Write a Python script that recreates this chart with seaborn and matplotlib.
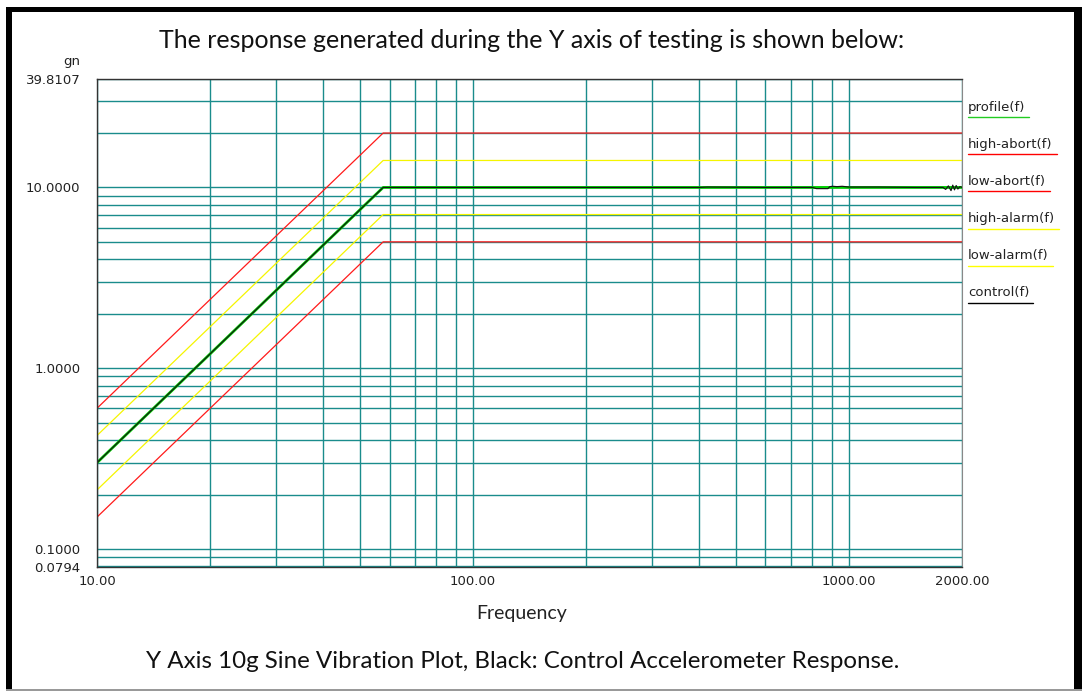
import numpy as np
import matplotlib
matplotlib.use("Agg")
import matplotlib.pyplot as plt
import seaborn as sns
from matplotlib.patches import Rectangle
from matplotlib.lines import Line2D
from matplotlib.ticker import LogLocator, NullFormatter

# breakpoints of the test profile (Hz) and levels (gn)
profile_freq = [10, 57.7, 2000]
profile_g = [0.3, 10.0, 10.0]
high_abort_g = [0.6, 20.0, 20.0]
low_abort_g = [0.15, 5.0, 5.0]
high_alarm_g = [0.424, 14.1, 14.1]
low_alarm_g = [0.212, 7.08, 7.08]

# measured control accelerometer response
control_freq = [10, 57.7, 400, 420, 600, 800, 820, 880, 890, 905, 930, 960, 1000,
                1200, 1500, 1780, 1810, 1840, 1870, 1890, 1910, 1930, 1950, 1975, 2000]
control_g = [0.3, 10.0, 10.0, 10.05, 10.0, 10.0, 9.85, 9.85, 10.1, 10.15, 10.1, 10.15, 10.05,
             10.05, 10.0, 10.0, 9.75, 10.2, 9.6, 10.3, 9.7, 10.25, 9.8, 10.1, 10.0]

legend_labels = ["profile(f)", "high-abort(f)", "low-abort(f)",
                 "high-alarm(f)", "low-alarm(f)", "control(f)"]
legend_colors = ["#22cc22", "#ff0000", "#ff0000", "#ffff00", "#ffff00", "#000000"]

x_ticks = [10, 100, 1000, 2000]
y_ticks = [10 ** -1.1, 0.1, 1.0, 10.0, 10 ** 1.6]

sns.set_style("white")
plt.rcParams["font.family"] = ["DejaVu Sans"]

W, H = 1085, 693
fig = plt.figure(figsize=(W / 100, H / 100), dpi=100)
ax = fig.add_axes([97 / W, 1 - 567 / H, 865 / W, 488 / H])

ax.set_xscale("log")
ax.set_yscale("log")

red, yellow = "#ff1a1a", "#f5f500"
sns.lineplot(x=profile_freq, y=high_abort_g, ax=ax, color=red, lw=0.9)
sns.lineplot(x=profile_freq, y=low_abort_g, ax=ax, color=red, lw=0.9)
sns.lineplot(x=profile_freq, y=high_alarm_g, ax=ax, color=yellow, lw=0.9)
sns.lineplot(x=profile_freq, y=low_alarm_g, ax=ax, color=yellow, lw=0.9)
sns.lineplot(x=profile_freq, y=profile_g, ax=ax, color="#00d000", lw=2.0)
sns.lineplot(x=control_freq, y=control_g, ax=ax, color="#141414", lw=0.85)

ax.set_xlim(10, 2000)
ax.set_ylim(10 ** -1.1, 10 ** 1.6)

ax.set_xticks(x_ticks)
ax.set_xticklabels(["%.2f" % v for v in x_ticks])
ax.set_yticks(y_ticks)
ax.set_yticklabels(["%.4f" % v for v in y_ticks])
for axis in (ax.xaxis, ax.yaxis):
    axis.set_minor_locator(LogLocator(base=10, subs=np.arange(2, 10), numticks=30))
    axis.set_minor_formatter(NullFormatter())

ax.tick_params(axis="x", which="major", length=0, pad=6, labelsize=9.5, labelcolor="#222222")
ax.tick_params(axis="y", which="major", length=10, width=1, color="#333333", pad=2,
               labelsize=9.5, labelcolor="#222222")
ax.tick_params(which="minor", length=0)
ax.yaxis.get_major_ticks()[0].tick1line.set_visible(False)

ax.grid(which="both", color="#1a8c8c", lw=1.0)
ax.set_axisbelow(True)
for side in ["left", "top", "bottom"]:
    ax.spines[side].set_color("#333333")
    ax.spines[side].set_linewidth(1.0)
    ax.spines[side].set_zorder(5)
ax.spines["right"].set_color("#888888")
ax.set_xlabel("")
ax.set_ylabel("")

fig.text(80 / W, 1 - 61 / H, "gn", ha="right", va="center", fontsize=9.5, color="#222222")
fig.text(522 / W, 1 - 614 / H, "Frequency", ha="center", va="center",
         fontsize=14, family=["Lato", "DejaVu Sans"], color="#222222")
fig.text(532 / W, 1 - 41 / H, "The response generated during the Y axis of testing is shown below:",
         ha="center", va="center", fontsize=18, family=["Lato", "DejaVu Sans"], color="#111111")
fig.text(523 / W, 1 - 662 / H, "Y Axis 10g Sine Vibration Plot, Black: Control Accelerometer Response.",
         ha="center", va="center", fontsize=17.4, family=["Lato", "DejaVu Sans"], color="#111111")

# legend on the right: label with a coloured underline
fig.canvas.draw()
renderer = fig.canvas.get_renderer()
for i, (lab, col) in enumerate(zip(legend_labels, legend_colors)):
    yc = 107 + i * 37.2
    t = fig.text(968 / W, 1 - yc / H, lab, ha="left", va="center", fontsize=9.5, color="#222222")
    bb = t.get_window_extent(renderer)
    fig.add_artist(Line2D([968 / W, (bb.x1 + 4) / W], [1 - (yc + 10) / H] * 2,
                          color=col, lw=1.0, transform=fig.transFigure))

# page frame
frame = [((6, 7), 6, 683, "black"), ((6, 7), 1076, 5, "black"),
         ((1074, 7), 8, 683, "black"), ((6, 689), 1076, 2, "#999999")]
for (x0, y0), w, h, col in frame:
    fig.add_artist(Rectangle((x0 / W, 1 - (y0 + h) / H), w / W, h / H,
                             transform=fig.transFigure, color=col, lw=0))

fig.savefig("out.png", dpi=100)
